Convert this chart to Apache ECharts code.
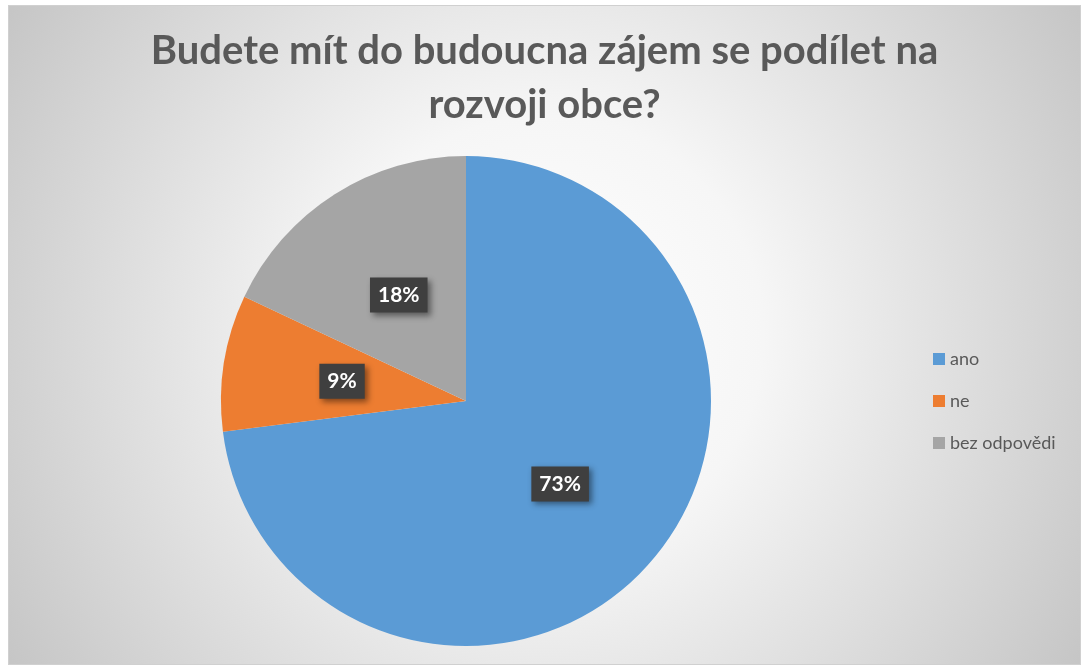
<!DOCTYPE html>
<html>
<head>
<meta charset="utf-8">
<script src="https://cdn.jsdelivr.net/npm/echarts@6/dist/echarts.min.js"></script>
<style>
  html, body { margin: 0; padding: 0; background: #fff; }
  #chart {
    position: absolute; left: 8px; top: 5px;
    width: 1071px; height: 658px;
    border: 1px solid #d0d0d0;
  }
</style>
</head>
<body>
<div id="chart"></div>
<script>
const categories = ['ano', 'ne', 'bez odpovědi']
const percents = [73, 9, 18]
const colors = ['#5b9bd5', '#ed7d31', '#a5a5a5']

const chart = echarts.init(document.getElementById('chart'))

const option = {
  backgroundColor: {
    type: 'radial', x: 0.5, y: 0.5, r: 0.95,
    colorStops: [
      { offset: 0, color: '#ffffff' },
      { offset: 0.35, color: '#f6f6f6' },
      { offset: 1, color: '#c6c6c6' }
    ]
  },
  title: {
    text: 'Budete mít do budoucna zájem se podílet na\nrozvoji obce?',
    left: 'center',
    top: 13,
    textStyle: {
      fontFamily: 'Lato',
      fontWeight: 'bold',
      fontSize: 40,
      lineHeight: 54,
      color: '#595959'
    }
  },
  legend: {
    orient: 'vertical',
    left: 919,
    top: 339,
    icon: 'rect',
    itemWidth: 12,
    itemHeight: 12,
    itemGap: 24,
    textStyle: { fontFamily: 'Lato', fontSize: 18, color: '#595959' },
    data: categories
  },
  series: [{
    type: 'pie',
    center: [457, 395],
    radius: 245,
    startAngle: 90,
    clockwise: true,
    silent: true,
    label: {
      show: true,
      position: 'inside',
      formatter: '{c}%',
      fontFamily: 'Lato',
      fontWeight: 'bold',
      fontSize: 21,
      color: '#ffffff',
      backgroundColor: '#3f3f3f',
      padding: [8, 8, 6, 8],
      shadowColor: 'rgba(0,0,0,0.45)',
      shadowBlur: 6,
      shadowOffsetX: 3,
      shadowOffsetY: 3
    },
    labelLine: { show: false },
    data: categories.map((name, i) => ({
      name,
      value: percents[i],
      itemStyle: { color: colors[i] }
    }))
  }]
}

chart.setOption(option)
</script>
</body>
</html>
